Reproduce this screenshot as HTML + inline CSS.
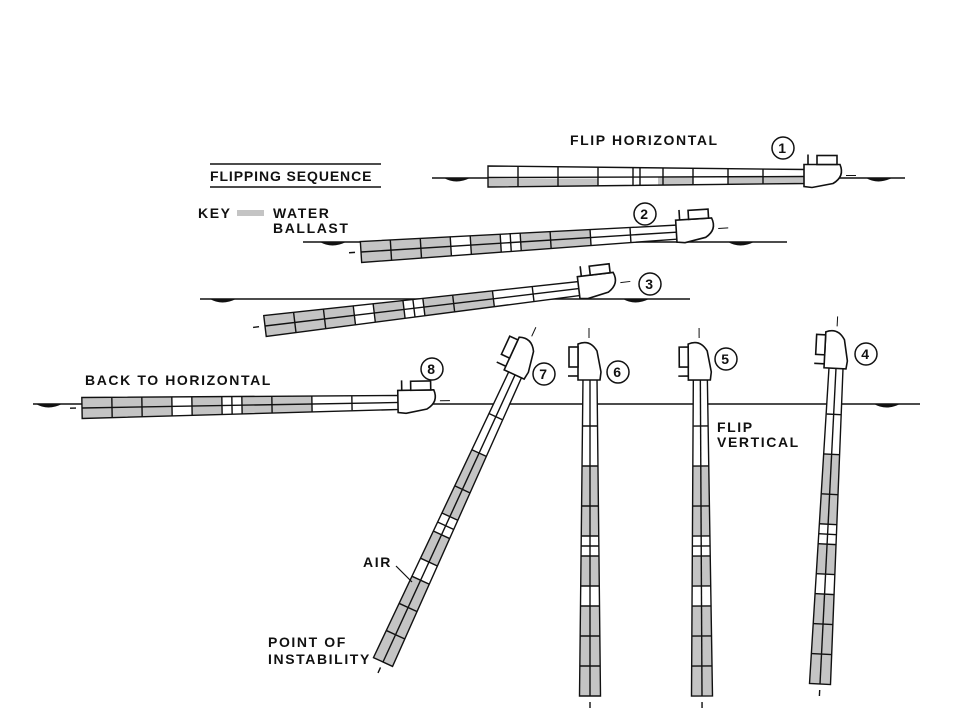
<!DOCTYPE html>
<html><head><meta charset="utf-8"><style>
html,body{margin:0;padding:0;background:#fff;}
svg{display:block}
text{font-family:"Liberation Sans",sans-serif;font-weight:bold;fill:#111;font-size:14px;letter-spacing:1.6px}
</style></head><body>
<svg width="960" height="720" viewBox="0 0 960 720" xmlns="http://www.w3.org/2000/svg">
<defs>
<g id="bow" stroke="#111" stroke-width="1.6" fill="#fff">
  <path d="M316,-12 L352,-12 Q357,0 345,7 L324,11 L316,10 Z"/>
  <rect x="329" y="-21" width="20" height="9"/>
  <line x1="320" y1="-22" x2="320" y2="-12"/>
  <line x1="358" y1="-1" x2="368" y2="-1" stroke-width="1"/>
</g>
<g id="shipA">
  <polygon points="0,-10.5 318,-7 318,7 0,10.5" fill="#fff"/>
  <g fill="#c4c4c4">
    <polygon points="0,2 30,2 30,10 0,10.5"/>
    <polygon points="30,2 110,2 110,10 30,10"/>
    <polygon points="170,1 205,1 205,9 170,9"/>
    <polygon points="240,0 318,0 318,7 240,8"/>
  </g>
  <g stroke="#111" stroke-width="1.4" fill="none">
    <polygon points="0,-10.5 318,-7 318,7 0,10.5"/>
    <line x1="0" y1="1" x2="318" y2="0"/>
    <path d="M30,-10 V10 M70,-10 V10 M110,-10 V10 M145,-9 V9 M152,-9 V9 M175,-9 V9 M205,-8 V8 M240,-8 V8 M275,-7 V7"/>
  </g>
  <use href="#bow"/>
</g>
<g id="shipB">
  <polygon points="0,-10.5 318,-7 318,7 0,10.5" fill="#fff"/>
  <g fill="#c4c4c4">
    <polygon points="0,-10.5 90,-9.5 90,9.5 0,10.5"/>
    <polygon points="110,-9 140,-9 140,9 110,9"/>
    <polygon points="160,-9 230,-8 230,8 160,9"/>
  </g>
  <g stroke="#111" stroke-width="1.4" fill="none">
    <polygon points="0,-10.5 318,-7 318,7 0,10.5"/>
    <line x1="0" y1="0" x2="318" y2="0"/>
    <path d="M30,-10 V10 M60,-10 V10 M90,-10 V10 M110,-9 V9 M140,-9 V9 M150,-9 V9 M160,-9 V9 M190,-8 V8 M230,-8 V8 M270,-7 V7"/>
    <line x1="-12" y1="0" x2="-6" y2="0"/>
  </g>
  <use href="#bow"/>
</g>
<g id="wave"><path d="M0,0 q12,7 26,0 z" fill="#111"/></g>
</defs>

<g stroke="#111" stroke-width="1.5">
  <line x1="432" y1="178" x2="905" y2="178"/>
  <line x1="303" y1="242" x2="787" y2="242"/>
  <line x1="200" y1="299" x2="690" y2="299"/>
  <line x1="33" y1="404" x2="920" y2="404"/>
</g>
<use href="#wave" x="444" y="178"/><use href="#wave" x="866" y="178"/>
<use href="#wave" x="320" y="242"/><use href="#wave" x="728" y="242"/>
<use href="#wave" x="210" y="299"/><use href="#wave" x="623" y="299"/>
<use href="#wave" x="36" y="404"/><use href="#wave" x="874" y="404"/>

<use href="#shipA" transform="translate(488,176.5)"/>
<use href="#shipB" transform="translate(361,252) rotate(-3.6)"/>
<use href="#shipB" transform="translate(265,326) rotate(-6.8)"/>
<use href="#shipB" transform="translate(82,408) rotate(-1)"/>
<use href="#shipB" transform="translate(383,662) rotate(-65.3)"/>
<use href="#shipB" transform="translate(590,696) rotate(-90)"/>
<use href="#shipB" transform="translate(702,696) rotate(-90.3)"/>
<use href="#shipB" transform="translate(820,684) rotate(-87.1)"/>

<g fill="#fff" stroke="#111" stroke-width="1.5">
  <circle cx="783" cy="148" r="11"/><circle cx="645" cy="214" r="11"/>
  <circle cx="650" cy="284" r="11"/><circle cx="432" cy="369" r="11"/>
  <circle cx="544" cy="374" r="11"/><circle cx="618" cy="372" r="11"/>
  <circle cx="726" cy="359" r="11"/><circle cx="866" cy="354" r="11"/>
</g>
<g text-anchor="middle" style="font-size:15px;letter-spacing:0">
  <text x="783" y="153">1</text><text x="645" y="219">2</text>
  <text x="650" y="289">3</text><text x="432" y="374">8</text>
  <text x="544" y="379">7</text><text x="618" y="377">6</text>
  <text x="726" y="364">5</text><text x="866" y="359">4</text>
</g>

<text x="570" y="145">FLIP HORIZONTAL</text>
<line x1="210" y1="164" x2="381" y2="164" stroke="#111" stroke-width="1.5"/>
<text x="210" y="181" style="letter-spacing:0.9px">FLIPPING SEQUENCE</text>
<line x1="210" y1="187" x2="381" y2="187" stroke="#111" stroke-width="1.5"/>
<text x="198" y="218">KEY</text>
<rect x="237" y="210" width="27" height="6" fill="#c4c4c4"/>
<text x="273" y="218">WATER</text>
<text x="273" y="233">BALLAST</text>
<text x="85" y="385">BACK TO HORIZONTAL</text>
<text x="717" y="432">FLIP</text>
<text x="717" y="447">VERTICAL</text>
<text x="363" y="567">AIR</text>
<line x1="396" y1="566" x2="412" y2="582" stroke="#111" stroke-width="1.2"/>
<text x="268" y="647">POINT OF</text>
<text x="268" y="664">INSTABILITY</text>
</svg>
</body></html>
